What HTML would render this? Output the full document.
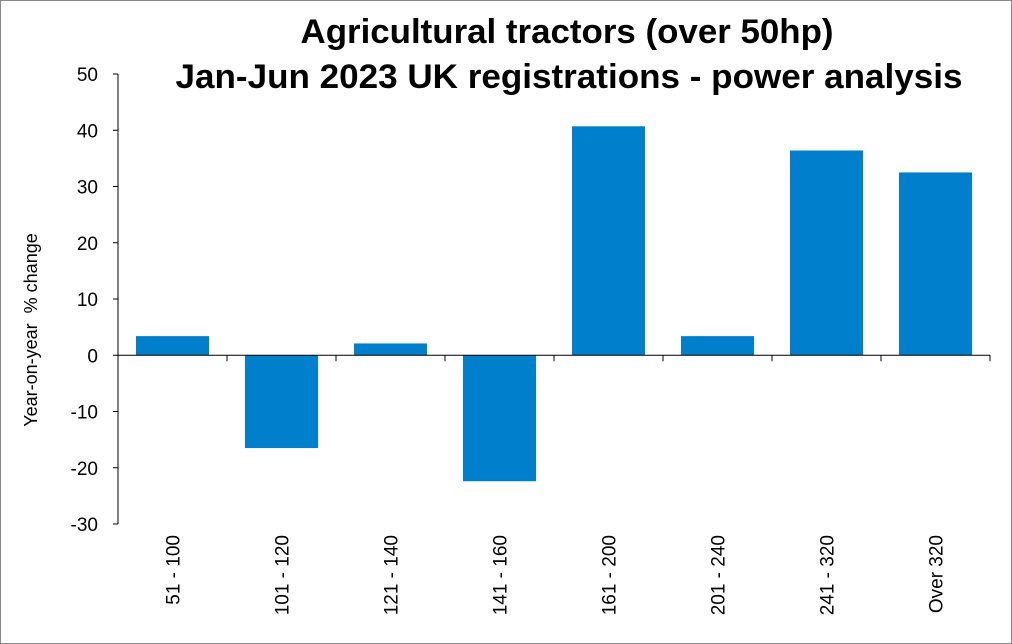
<!DOCTYPE html>
<html><head><meta charset="utf-8"><style>
body{margin:0;background:#fff}
svg{display:block;font-family:"Liberation Sans",sans-serif}
</style></head><body>
<svg id="chart" width="1012" height="644">
<rect x="0.5" y="0.5" width="1011" height="643" fill="#fff" stroke="#888"/>
<text x="567" y="43" text-anchor="middle" font-size="34" font-weight="bold" textLength="533" lengthAdjust="spacingAndGlyphs">Agricultural tractors (over 50hp)</text>
<text x="569" y="88" text-anchor="middle" font-size="34" font-weight="bold" textLength="787" lengthAdjust="spacingAndGlyphs">Jan-Jun 2023 UK registrations - power analysis</text>
<text transform="translate(37,330) rotate(-90)" text-anchor="middle" font-size="18" xml:space="preserve">Year-on-year  % change</text>
<g id="plot"></g>
</svg>
<script>
const categories=["51 - 100","101 - 120","121 - 140","141 - 160","161 - 200","201 - 240","241 - 320","Over 320"];
const values=[3.4,-16.5,2.1,-22.4,40.7,3.4,36.4,32.5];
const yTicks=[50,40,30,20,10,0,-10,-20,-30];
const ns="http://www.w3.org/2000/svg";
const g=document.getElementById('plot');
const x0=118,x1=990,yTop=74,yBot=524,yMax=50,yMin=-30;
const y=v=>yTop+(yMax-v)/(yMax-yMin)*(yBot-yTop);
const bw=(x1-x0)/categories.length;
function mk(t,a){const e=document.createElementNS(ns,t);for(const k in a)e.setAttribute(k,a[k]);g.appendChild(e);return e;}
let ax=mk('line',{x1:x0,y1:yTop,x2:x0,y2:yBot,stroke:'#000','stroke-width':1});


yTicks.forEach(t=>{
 const l=mk('line',{x1:x0-5,y1:y(t),x2:x0,y2:y(t),stroke:'#000'});
 
 
 const tx=mk('text',{x:x0-20,y:y(t)+7,'text-anchor':'end','font-size':19});
 tx.textContent=t;
 
 
});
values.forEach((v,i)=>{
 const cx=x0+bw*(i+0.5);
 const r=mk('rect',{x:cx-36.5,y:Math.min(y(v),y(0)),width:73,height:Math.abs(y(v)-y(0)),fill:'#0080cc'});
 
 
});
let xa=mk('line',{x1:x0,y1:y(0),x2:x1,y2:y(0),stroke:'#000'});


for(let i=0;i<=categories.length;i++){
 const l=mk('line',{x1:x0+bw*i,y1:y(0),x2:x0+bw*i,y2:y(0)+6,stroke:'#000'});
 
 
}
categories.forEach((c,i)=>{
 const cx=x0+bw*(i+0.5);
 const t=mk('text',{transform:`translate(${cx+7},535) rotate(-90)`,'text-anchor':'end','font-size':19});
 t.textContent=c;
 
 
});
</script>
</body></html>
